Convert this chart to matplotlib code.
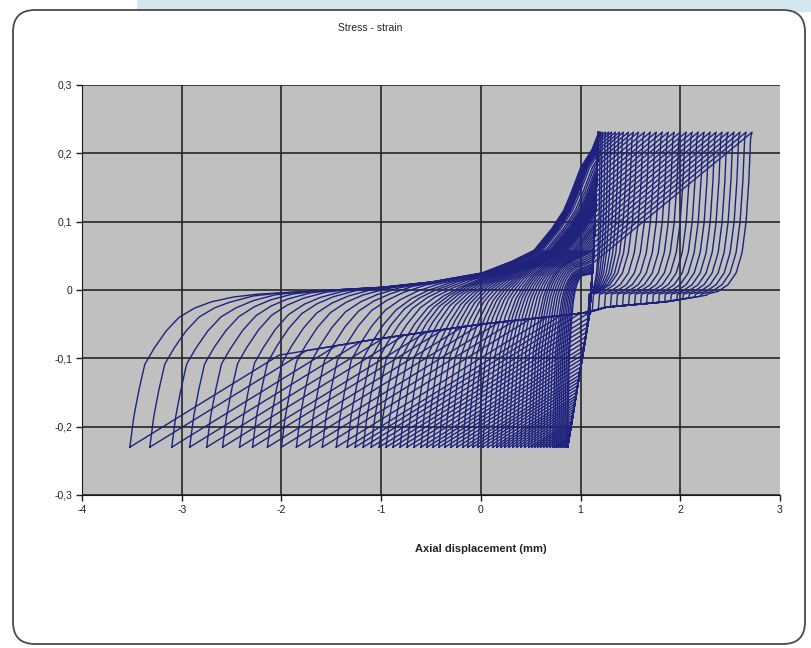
import numpy as np
import matplotlib.pyplot as plt
from matplotlib.patches import FancyBboxPatch, Rectangle

plt.rcParams['font.family'] = ['Liberation Sans', 'DejaVu Sans']
plt.rcParams['axes.unicode_minus'] = False

# reversal points (axial displacement, mm)
left_bottom_x = [-3.52, -3.32, -3.10, -2.92, -2.75, -2.59, -2.42, -2.29, -2.14, -2.00,
                 -1.85, -1.72, -1.59, -1.45, -1.34, -1.26, -1.18, -1.10, -1.02, -0.95,
                 -0.88, -0.81, -0.74, -0.67, -0.60, -0.54, -0.48, -0.42, -0.36, -0.30,
                 -0.24, -0.18, -0.13, -0.08, -0.03, 0.02, 0.07, 0.12, 0.16, 0.20,
                 0.24, 0.28, 0.32, 0.36, 0.40, 0.44, 0.48, 0.51, 0.54, 0.57,
                 0.60, 0.63, 0.66, 0.69, 0.72, 0.74, 0.76, 0.78, 0.80, 0.82,
                 0.84, 0.86, 0.87]
right_top_x = [1.20, 1.22, 1.25, 1.28, 1.31, 1.35, 1.39, 1.43, 1.48, 1.53, 1.58, 1.64,
               1.70, 1.76, 1.82, 1.88, 1.94, 2.00, 2.06, 2.12, 2.18, 2.24, 2.30, 2.36,
               2.42, 2.48, 2.54, 2.60, 2.66, 2.72]
stress_min = -0.23
stress_max = 0.231

# upper left envelope (falling branch from the common top)
env_x = [-3.6, -2.5, -2.0, -1.5, -1.0, -0.5, 0.0, 0.30, 0.52, 0.70, 0.82, 0.90, 0.99, 1.10, 1.17]
env_y = [-0.010, -0.008, -0.004, 0.0, 0.004, 0.012, 0.025, 0.042, 0.058, 0.090, 0.117, 0.145, 0.180, 0.205, 0.231]
# steep elastic band
band_x = [0.87, 1.09, 1.13, 1.18]
band_y = [-0.23, -0.034, 0.05, 0.231]
# ridge where the rising diagonals of the left loops gather
ridge_x = [-3.6, -2.3, -1.1, 0.0, 0.9, 1.1]
ridge_y = [-0.12, -0.102, -0.073, -0.05, -0.036, -0.032]
slope_left = 0.09
slope_right = 0.12
# depth of the elastic unloading from the top, by bottom position
unload_a = [-3.6, -1.5, 0.0, 0.9]
unload_h = [0.0, 0.03, 0.12, 0.21]
# arch down to a bottom point (outermost loop, normalised)
arch_g = [0.0, 0.03, 0.07, 0.115, 0.19, 0.28, 0.38, 0.50, 0.63, 0.80, 1.0]
arch_f = [0.0, 0.20, 0.38, 0.55, 0.66, 0.77, 0.86, 0.92, 0.96, 0.99, 1.0]
# drop from a top point of the right loops (outermost loop)
drop_dx = [0.0, -0.015, -0.03, -0.06, -0.10, -0.16, -0.24, -0.34, -0.45, -0.6]
drop_y = [0.231, 0.222, 0.165, 0.10, 0.055, 0.025, 0.008, -0.002, -0.006, -0.3]
# lower edge of the right loops
rbot_x = [1.09, 1.26, 1.87, 2.33, 2.8]
rbot_y = [-0.032, -0.025, -0.017, -0.006, -0.004]

fig = plt.figure(figsize=(8.11, 6.48), dpi=100)
fig.patch.set_facecolor('white')
fig.patches.append(Rectangle((137, 636), 700, 20, transform=None, fc='#d4e7f0', ec='none', zorder=-3))
fig.patches.append(FancyBboxPatch((13, 4), 792, 634, boxstyle='round,pad=0,rounding_size=22',
                                  transform=None, fc='white', ec='#4a4a4a', lw=1.3, zorder=-2))

ax = fig.add_axes([82 / 811, 1 - 495 / 648, 698 / 811, 410 / 648])
ax.set_facecolor('#c0c0c0')
ax.set_axisbelow(True)
line_kw = dict(color='#1f227c', lw=1.0)

for a in left_bottom_x:
    h = np.interp(a, unload_a, unload_h)
    y_u = band_y[-1] - h
    x_u = band_x[-1] - 0.275 * h
    d = x_u - np.interp(y_u, env_y, env_x)
    w = min(1.3, 0.6 * (x_u - a))
    xs = np.linspace(a, band_x[-1], 500)
    up = np.minimum(stress_min + slope_left * (xs - a), np.interp(xs, ridge_x, ridge_y))
    up = np.maximum(up, np.interp(xs, band_x, band_y, left=-1, right=1))
    top = np.where(xs < x_u, np.interp(xs - d, env_x, env_y),
                   y_u + (xs - x_u) * h / (band_x[-1] - x_u + 1e-9))
    f = np.interp((xs - a) / w, arch_g, arch_f)
    down = stress_min + (top - stress_min) * f
    ax.plot(np.r_[xs, xs[::-1]], np.r_[up, down[::-1]], **line_kw)

for b in right_top_x:
    xs = np.linspace(band_x[0], b, 500)
    up = np.minimum(np.interp(xs, band_x, band_y, right=1.0), stress_max - slope_right * (b - xs))
    sc = min(1.0, (b - rbot_x[0]) / 0.45)
    drop = np.interp(xs, b + sc * np.array(drop_dx[::-1]), drop_y[::-1])
    floor = np.minimum(np.interp(xs, rbot_x, rbot_y), np.interp(xs, band_x, band_y, right=1.0))
    down = np.maximum(drop, floor)
    ax.plot(np.r_[xs, xs[::-1]], np.r_[up, down[::-1]], **line_kw)

ax.set_xlim(-4, 3)
ax.set_ylim(-0.3, 0.3)
ax.set_xticks(range(-4, 4))
ax.set_yticks([-0.3, -0.2, -0.1, 0, 0.1, 0.2, 0.3])
ax.set_yticklabels(['-0,3', '-0,2', '-0,1', '0', '0,1', '0,2', '0,3'])
ax.grid(True, color='#262626', lw=1.2)
ax.get_xgridlines()[-1].set_visible(False)
for s in ['top', 'right']:
    ax.spines[s].set_visible(False)
for s in ['left', 'bottom']:
    ax.spines[s].set_color('#1a1a1a')
ax.tick_params(direction='out', length=4, width=1, color='#1a1a1a', labelsize=7.5,
               labelcolor='#222222', pad=3)

fig.text(370 / 811, 1 - 28 / 648, 'Stress - strain', ha='center', va='center', fontsize=7.5, color='#222222')
fig.text(481 / 811, 1 - 549 / 648, 'Axial displacement (mm)', ha='center', va='center',
         fontsize=8, weight='bold', color='#222222')

fig.savefig('out.png', dpi=100)
